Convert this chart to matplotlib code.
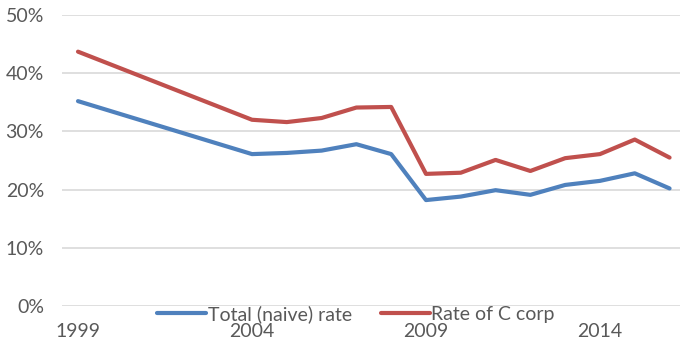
import matplotlib
matplotlib.use("Agg")
import matplotlib.pyplot as plt
from matplotlib.ticker import PercentFormatter

years = [1999, 2004, 2005, 2006, 2007, 2008, 2009, 2010, 2011, 2012, 2013, 2014, 2015, 2016]
total_naive_rate = [0.352, 0.261, 0.263, 0.267, 0.278, 0.261, 0.182, 0.188, 0.199, 0.191, 0.208, 0.215, 0.228, 0.202]
c_corp_rate = [0.437, 0.320, 0.316, 0.323, 0.341, 0.342, 0.227, 0.229, 0.251, 0.232, 0.254, 0.261, 0.286, 0.255]
x_tick_years = [1999, 2004, 2009, 2014]
y_ticks = [0.0, 0.1, 0.2, 0.3, 0.4, 0.5]

plt.rcParams["font.family"] = ["Lato", "DejaVu Sans"]
text_color = "#595959"

fig = plt.figure(figsize=(6.8, 3.45), dpi=100)
ax = fig.add_axes([62 / 680, 1 - 306 / 345, 1 - 62 / 680, (306 - 15) / 345])

ax.plot(years, total_naive_rate, color="#4F81BD", lw=3.0, solid_joinstyle="round",
        solid_capstyle="round", label="Total (naive) rate")
ax.plot(years, c_corp_rate, color="#C0504D", lw=3.0, solid_joinstyle="round",
        solid_capstyle="round", label="Rate of C corp")

ax.set_xlim(1998.54, 2016.3)
ax.set_ylim(0, 0.5)
ax.set_yticks(y_ticks)
ax.yaxis.set_major_formatter(PercentFormatter(1.0, decimals=0))
ax.set_xticks(x_tick_years)
ax.set_xticklabels([str(y) for y in x_tick_years])
ax.grid(axis="y", color="#d9d9d9", lw=1.2)
ax.set_axisbelow(True)
for s in ax.spines.values():
    s.set_visible(False)
ax.tick_params(axis="both", length=0, labelsize=14, colors=text_color)
ax.tick_params(axis="y", pad=13)
ax.tick_params(axis="x", pad=12)

fig.legend(loc="center", bbox_to_anchor=(356 / 680, 1 - 314 / 345), ncol=2, frameon=False,
           fontsize=14, labelcolor=text_color, handlelength=2.5, handletextpad=0.1,
           columnspacing=1.5, borderaxespad=0, borderpad=0)

fig.savefig("out.png", dpi=100)
